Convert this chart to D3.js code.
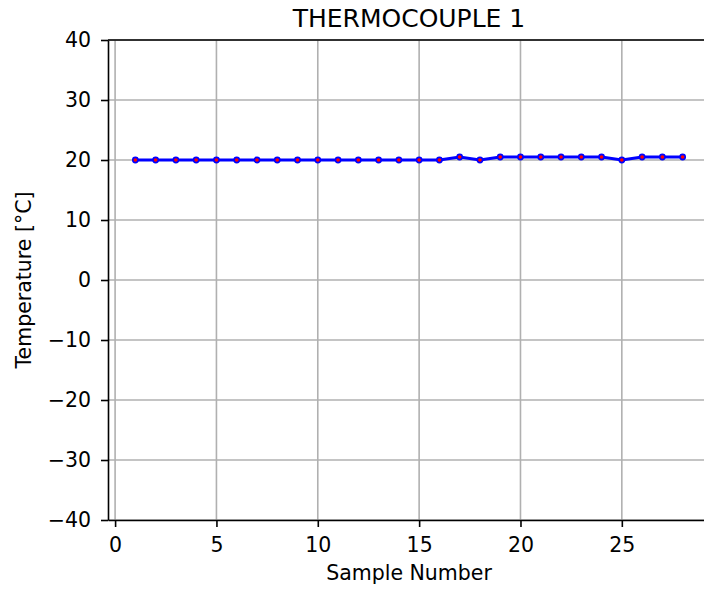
<!DOCTYPE html>
<html>
<head>
<meta charset="utf-8">
<script src="https://cdn.jsdelivr.net/npm/d3@7"></script>
<style>
  body { margin: 0; background: #fff; }
  text { font-family: "DejaVu Sans", sans-serif; fill: #000; }
</style>
</head>
<body>
<svg id="chart" width="704" height="589"></svg>
<script>
// readings from thermocouple 1
var samples = d3.range(1, 29)
var temps = [20.0, 20.0, 20.0, 20.0, 20.0, 20.0, 20.0, 20.0, 20.0, 20.0,
             20.0, 20.0, 20.0, 20.0, 20.0, 20.0, 20.5, 20.0, 20.5, 20.5,
             20.5, 20.5, 20.5, 20.5, 20.0, 20.5, 20.5, 20.5]
var xTicks = [0, 5, 10, 15, 20, 25]
var yTicks = [-40, -30, -20, -10, 0, 10, 20, 30, 40]

var data = samples.map(function(s, i) { return {x: s, y: temps[i]} })

var svg = d3.select('#chart')
var mLeft = 108, mRight = 710, mTop = 40, mBottom = 520

var x = d3.scaleLinear().domain([-0.35, 29.35]).range([mLeft, mRight])
var y = d3.scaleLinear().domain([-40, 40]).range([mBottom, mTop])

// grid
svg.append('g').selectAll('line').data(xTicks).enter().append('line')
    .attr('x1', function(d) { return x(d) }).attr('x2', function(d) { return x(d) })
    .attr('y1', mTop).attr('y2', mBottom)
    .attr('stroke', '#b0b0b0').attr('stroke-width', 1.6)
svg.append('g').selectAll('line').data(yTicks).enter().append('line')
    .attr('y1', function(d) { return y(d) }).attr('y2', function(d) { return y(d) })
    .attr('x1', mLeft).attr('x2', mRight)
    .attr('stroke', '#b0b0b0').attr('stroke-width', 1.6)

// axes
var xAxis = svg.append('g')
    .attr('transform', 'translate(0,' + mBottom + ')')
    .call(d3.axisBottom(x).tickValues(xTicks).tickSize(7).tickPadding(10).tickSizeOuter(0))
var yAxis = svg.append('g')
    .attr('transform', 'translate(' + mLeft + ',0)')
    .call(d3.axisLeft(y).tickValues(yTicks).tickSize(7).tickPadding(10).tickSizeOuter(0))

;[xAxis, yAxis].forEach(function(a) {
    a.attr('font-size', null).attr('font-family', null)
    a.selectAll('text').style('font-size', '20.5px')
    a.selectAll('line').attr('stroke', '#000').attr('stroke-width', 1.6)
    a.select('.domain').attr('stroke', '#000').attr('stroke-width', 1.6)
})

// top spine
svg.append('line')
    .attr('x1', mLeft).attr('x2', mRight).attr('y1', mTop).attr('y2', mTop)
    .attr('stroke', '#000').attr('stroke-width', 1.6)

// series
var line = d3.line().x(function(d) { return x(d.x) }).y(function(d) { return y(d.y) })
svg.append('path').datum(data)
    .attr('d', line)
    .attr('fill', 'none')
    .attr('stroke', '#0000ff')
    .attr('stroke-width', 3.1)

svg.append('g').selectAll('circle').data(data).enter().append('circle')
    .attr('cx', function(d) { return x(d.x) })
    .attr('cy', function(d) { return y(d.y) })
    .attr('r', 2.6)
    .attr('fill', '#ff0000')
    .attr('stroke', '#0000ff')
    .attr('stroke-width', 1.6)

// labels
svg.append('text')
    .attr('x', (mLeft + mRight) / 2).attr('y', 27)
    .attr('text-anchor', 'middle')
    .style('font-size', '25px')
    .text('THERMOCOUPLE 1')

svg.append('text')
    .attr('x', (mLeft + mRight) / 2).attr('y', 580)
    .attr('text-anchor', 'middle')
    .style('font-size', '20.5px')
    .text('Sample Number')

svg.append('text')
    .attr('transform', 'translate(31,' + ((mTop + mBottom) / 2) + ') rotate(-90)')
    .attr('text-anchor', 'middle')
    .style('font-size', '20.5px')
    .text('Temperature [°C]')
</script>
</body>
</html>
